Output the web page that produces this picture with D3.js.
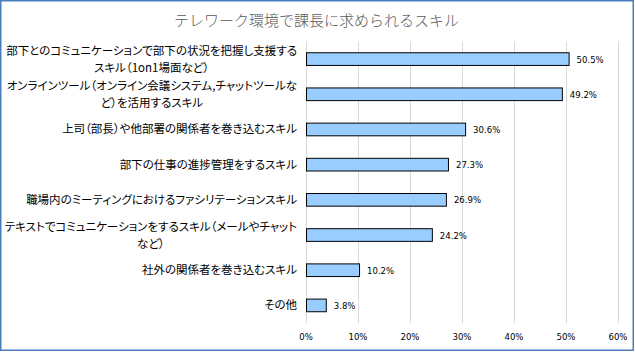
<!DOCTYPE html>
<html>
<head>
<meta charset="utf-8">
<script src="https://cdn.jsdelivr.net/npm/d3@7"></script>
<style>
  body { margin: 0; background: #fff; }
  svg { display: block; }
  .cat { font-feature-settings: "palt"; }
</style>
</head>
<body>
<div id="chart"></div>
<script>
// chart data
const categories = [
  ['部下とのコミュニケーションで部下の状況を把握し支援する', 'スキル（1on1場面など）'],
  ['オンラインツール（オンライン会議システム,チャットツールな', 'ど）を活用するスキル'],
  ['上司（部長）や他部署の関係者を巻き込むスキル'],
  ['部下の仕事の進捗管理をするスキル'],
  ['職場内のミーティングにおけるファシリテーションスキル'],
  ['テキストでコミュニケーションをするスキル（メールやチャット', 'など）'],
  ['社外の関係者を巻き込むスキル'],
  ['その他']
];
const values = [50.5, 49.2, 30.6, 27.3, 26.9, 24.2, 10.2, 3.8];
const ticks = [0, 10, 20, 30, 40, 50, 60];
const title = 'テレワーク環境で課長に求められるスキル';

const width = 635, height = 352;
const margin = { top: 41.5, right: 17, bottom: 29, left: 306 };
const labelRight = 297, labelMax = 294;

const svg = d3.select('#chart').append('svg')
  .attr('width', width)
  .attr('height', height);

// outer frame
svg.append('rect')
  .attr('x', 0.75).attr('y', 0.75)
  .attr('width', width - 2.5).attr('height', height - 2.5)
  .attr('fill', '#fff')
  .attr('stroke', '#4a7ebb')
  .attr('stroke-width', 1.5);

svg.append('text')
  .attr('x', 316.5)
  .attr('y', 26)
  .attr('text-anchor', 'middle')
  .style('font-family', '"Noto Sans CJK JP"')
  .style('font-size', '15px')
  .style('font-weight', 300)
  .attr('fill', '#595959')
  .text(title);

const x = d3.scaleLinear()
  .domain([0, 60])
  .range([margin.left, 618]);

const y = d3.scaleBand()
  .domain(d3.range(categories.length))
  .range([margin.top, height - margin.bottom])
  .paddingInner(0.64)
  .paddingOuter(0.32);

// gridlines
svg.append('g')
  .selectAll('line')
  .data(ticks)
  .join('line')
  .attr('x1', d => Math.round(x(d)) + 0.5)
  .attr('x2', d => Math.round(x(d)) + 0.5)
  .attr('y1', margin.top)
  .attr('y2', height - margin.bottom)
  .attr('stroke', '#d9d9d9')
  .attr('stroke-width', 1);

// tick labels
svg.append('g')
  .selectAll('text')
  .data(ticks)
  .join('text')
  .attr('x', d => x(d))
  .attr('y', 340)
  .attr('text-anchor', 'middle')
  .style('font-family', '"DejaVu Sans Condensed", "DejaVu Sans"')
  .style('font-size', '9.5px')
  .attr('fill', '#000')
  .text(d => d + '%');

// bars
svg.append('g')
  .selectAll('rect')
  .data(values)
  .join('rect')
  .attr('x', x(0) + 0.5)
  .attr('y', (d, i) => y(i))
  .attr('width', d => x(d) - x(0))
  .attr('height', y.bandwidth())
  .attr('fill', '#99ccff')
  .attr('stroke', '#000')
  .attr('stroke-width', 1);

// value labels
svg.append('g')
  .selectAll('text')
  .data(values)
  .join('text')
  .attr('x', d => x(d) + 8)
  .attr('y', (d, i) => y(i) + y.bandwidth() / 2 + 3.5)
  .style('font-family', '"DejaVu Sans Condensed", "DejaVu Sans"')
  .style('font-size', '9.5px')
  .attr('fill', '#000')
  .text(d => d.toFixed(1) + '%');

// category labels (wrapped by hand like the original)
const lineH = 17;
const labels = svg.append('g')
  .selectAll('text')
  .data(categories)
  .join('text')
  .attr('class', 'cat')
  .style('font-family', '"Noto Sans CJK JP"')
  .style('font-size', '11.5px')
  .attr('fill', '#000');

labels.each(function (lines, i) {
  const cy = y(i) + y.bandwidth() / 2;
  const t = d3.select(this);
  const spans = lines.map((line, j) => t.append('tspan')
    .attr('text-anchor', 'middle')
    .attr('y', cy + (j - (lines.length - 1) / 2) * lineH + 4)
    .text(line));
  // block width = widest line, lines centred inside it, block right-aligned
  let w = d3.max(spans, s => s.node().getComputedTextLength());
  if (w > labelMax) {
    spans.forEach(s => {
      const lw = s.node().getComputedTextLength();
      if (lw > labelMax) s.attr('textLength', labelMax).attr('lengthAdjust', 'spacingAndGlyphs');
    });
    w = labelMax;
  }
  spans.forEach(s => s.attr('x', labelRight - w / 2));
});
</script>
</body>
</html>
